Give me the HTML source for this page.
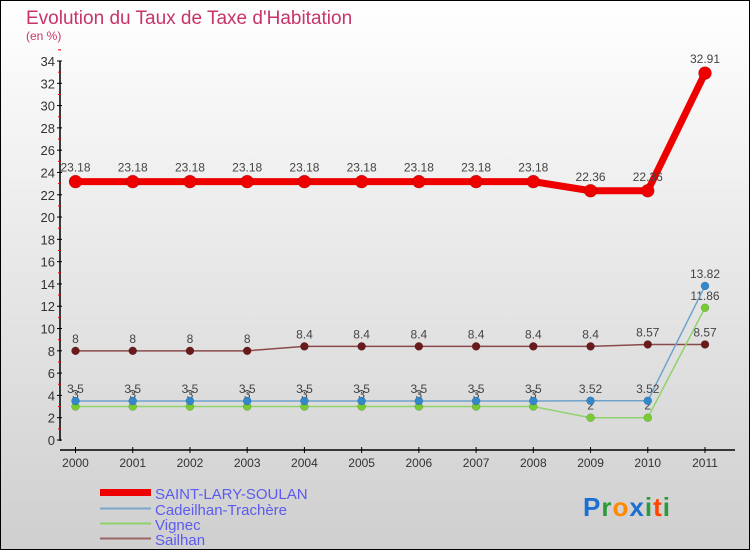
<!DOCTYPE html>
<html><head><meta charset="utf-8"><style>
html,body{margin:0;padding:0}
body{width:750px;height:550px;overflow:hidden;font-family:"Liberation Sans",sans-serif}
</style></head><body>
<svg id="chart" width="750" height="550" xmlns="http://www.w3.org/2000/svg" font-family="Liberation Sans, sans-serif">
<defs><linearGradient id="bg" x1="0" y1="0" x2="0" y2="1"><stop offset="0" stop-color="#ffffff"/><stop offset="1" stop-color="#cfcfcf"/></linearGradient></defs>
<rect x="0.5" y="0.5" width="749" height="549" fill="url(#bg)" stroke="#000"/>
<text x="26" y="24" font-size="19" fill="#c8336a">Evolution du Taux de Taxe d'Habitation</text>
<text x="26" y="40" font-size="12" fill="#c8336a">(en %)</text>
<g id="axes"></g><g id="series"></g>
<g>
<rect x="100" y="489" width="51" height="7" fill="#e00"/>
<text x="155" y="499" font-size="15" fill="#5b5bef">SAINT-LARY-SOULAN</text>
<rect x="100" y="507.5" width="51" height="2" fill="#7aa7cc"/>
<text x="155" y="515" font-size="15" fill="#5b5bef">Cadeilhan-Trachère</text>
<rect x="100" y="522.5" width="51" height="2" fill="#8fd36a"/>
<text x="155" y="530" font-size="15" fill="#5b5bef">Vignec</text>
<rect x="100" y="537.5" width="51" height="2" fill="#9a6666"/>
<text x="155" y="545" font-size="15" fill="#5b5bef">Sailhan</text>
</g>
<text x="583" y="516" font-size="26" font-weight="bold" letter-spacing="1"><tspan fill="#1a6fd0">P</tspan><tspan fill="#2a9a3a">r</tspan><tspan fill="#ff8800">o</tspan><tspan fill="#1a6fd0">x</tspan><tspan fill="#2a9a3a">i</tspan><tspan fill="#ff4400">t</tspan><tspan fill="#2a9a3a">i</tspan></text>
</svg>
<script>
const years=[2000,2001,2002,2003,2004,2005,2006,2007,2008,2009,2010,2011];
const saintLary=[23.18,23.18,23.18,23.18,23.18,23.18,23.18,23.18,23.18,22.36,22.36,32.91];
const cadeilhan=[3.5,3.5,3.5,3.5,3.5,3.5,3.5,3.5,3.5,3.52,3.52,13.82];
const vignec=[3,3,3,3,3,3,3,3,3,2,2,11.86];
const sailhan=[8,8,8,8,8.4,8.4,8.4,8.4,8.4,8.4,8.57,8.57];
const yTicks=[0,2,4,6,8,10,12,14,16,18,20,22,24,26,28,30,32,34];
const NS="http://www.w3.org/2000/svg";
const xS=i=>75.5+i*(629.5/11);
const yS=v=>440-v*(379/34);
function mk(tag,attrs,parent){const e=document.createElementNS(NS,tag);for(const k in attrs)e.setAttribute(k,attrs[k]);parent.appendChild(e);return e;}
const axes=document.getElementById('axes'),ser=document.getElementById('series');
let ya=mk('line',{x1:60,y1:yS(34),x2:60,y2:yS(0)+1,stroke:'#000','stroke-width':1.5},axes);


yTicks.forEach(t=>{
  mk('line',{x1:57,x2:62,y1:yS(t),y2:yS(t),stroke:'#000'},axes);
  mk('line',{x1:58,x2:61,y1:yS(t+1),y2:yS(t+1),stroke:'#e00'},axes);
  const tx=mk('text',{x:55,y:yS(t)+5,'font-size':13,'text-anchor':'end',fill:'#333'},axes);
  tx.textContent=t;
  
  
});
let xa=mk('line',{x1:60,y1:450,x2:735,y2:450,stroke:'#000','stroke-width':1.5},axes);


years.forEach((y,i)=>{
  mk('line',{x1:xS(i),x2:xS(i),y1:447,y2:453,stroke:'#000'},axes);
  const tx=mk('text',{x:xS(i),y:467,'font-size':12,'text-anchor':'middle',fill:'#333'},axes);
  tx.textContent=y;
  
  
});
function series(vals,name,color,width,r,dot,lblDy){
  const g=mk('g',{},ser);
  
  
  mk('polyline',{points:vals.map((v,i)=>xS(i)+','+yS(v)).join(' '),fill:'none',stroke:color,'stroke-width':width,'stroke-linejoin':'round'},g);
  vals.forEach((v,i)=>{
    const c=mk('circle',{cx:xS(i),cy:yS(v),r:r,fill:dot,stroke:'rgba(0,0,0,0.25)','stroke-width':0.5},g);
    
    
    const t=mk('text',{x:xS(i),y:yS(v)+lblDy,'font-size':12,'text-anchor':'middle',fill:'#444'},g);
    t.textContent=String(v);
    
    
  });
}
series(sailhan,'sailhan','#8a4a4a',1.5,4,'#6a1a1a',-8);
series(vignec,'vignec','#8fd36a',1.5,4,'#77cc33',-8);
series(cadeilhan,'cadeilhan','#6fa3cc',1.5,4,'#3388cc',-8);
series(saintLary,'saint-lary','#ee0000',7,6.5,'#ee0000',-10);
</script>
</body></html>
